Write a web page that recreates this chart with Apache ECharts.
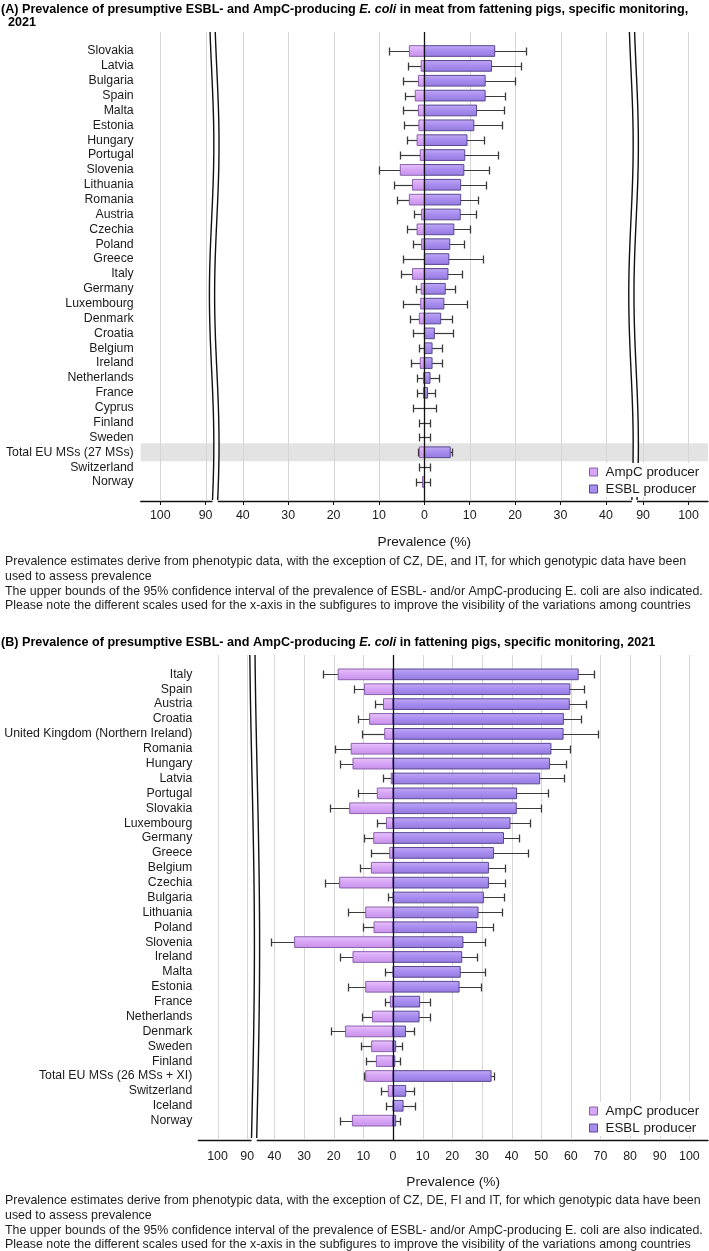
<!DOCTYPE html>
<html><head><meta charset="utf-8">
<script src="https://cdn.jsdelivr.net/npm/echarts@6/dist/echarts.min.js"></script>
<style>html,body{margin:0;padding:0;background:#fff}#c{width:709px;height:1251px}</style>
</head><body><div id="c"></div><script>
// ---------------- DATA: panel (A) meat from fattening pigs ----------------
const A_categories = ['Slovakia','Latvia','Bulgaria','Spain','Malta','Estonia','Hungary','Portugal','Slovenia','Lithuania','Romania','Austria','Czechia','Poland','Greece','Italy','Germany','Luxembourg','Denmark','Croatia','Belgium','Ireland','Netherlands','France','Cyprus','Finland','Sweden','Total EU MSs (27 MSs)','Switzerland','Norway'];
const A_ampc      = [3.3,0.7,1.3,2.0,1.3,1.2,1.6,0.9,5.3,2.6,3.3,0.6,1.6,0.6,0,2.6,0.7,0.8,1.1,0,0,0.9,0.2,0.2,0,0,0,1.1,0,0.4];
const A_ampcUpper = [7.7,3.7,4.8,4.3,4.8,4.5,3.9,5.4,10.0,6.7,6.1,2.3,3.9,2.4,4.8,5.2,1.8,4.6,3.1,2.6,1.2,2.9,1.7,1.7,2.6,1.2,1.2,1.5,1.2,1.8];
const A_esbl      = [15.5,14.8,13.4,13.4,11.5,10.9,9.4,8.9,8.7,8.0,8.0,7.9,6.5,5.6,5.4,5.2,4.6,4.3,3.6,2.2,1.7,1.7,1.25,0.7,0,0,0,5.7,0,0];
const A_esblUpper = [22.3,21.4,19.9,17.8,17.6,17.0,13.2,16.2,14.3,13.6,11.8,11.4,10.0,8.7,13.0,8.3,6.8,9.5,6.2,6.3,3.9,3.9,3.2,2.3,2.6,1.2,1.2,6.2,1.2,1.2];
const A_ticks     = [-100,-90,-40,-30,-20,-10,0,10,20,30,40,90,100];
const A_highlight = ['Total EU MSs (27 MSs)'];

// ---------------- DATA: panel (B) fattening pigs ----------------
const B_categories = ['Italy','Spain','Austria','Croatia','United Kingdom (Northern Ireland)','Romania','Hungary','Latvia','Portugal','Slovakia','Luxembourg','Germany','Greece','Belgium','Czechia','Bulgaria','Lithuania','Poland','Slovenia','Ireland','Malta','Estonia','France','Netherlands','Denmark','Sweden','Finland','Total EU MSs (26 MSs + XI)','Switzerland','Iceland','Norway'];
const B_ampc      = [18.5,9.6,3.2,7.9,2.8,14.1,13.5,0.6,5.3,14.6,2.2,6.5,1.1,7.3,18.0,0,9.2,6.4,33.2,13.5,0,9.2,0.9,6.9,16.0,7.2,5.6,9.2,1.6,0,13.7];
const B_ampcUpper = [23.6,13.0,6.0,11.9,10.3,19.5,17.8,3.5,11.9,21.4,5.5,9.7,7.3,11.0,22.8,1.8,15.1,10.0,41.2,18.0,2.8,15.1,2.8,10.5,20.8,10.8,9.0,9.7,4.0,2.4,17.9];
const B_esbl      = [62.5,59.7,59.5,57.5,57.4,53.3,52.8,49.5,41.7,41.6,39.5,37.3,33.9,32.2,32.2,30.5,28.7,28.2,23.6,23.2,22.7,22.3,9.0,8.8,4.2,0.9,0.6,33.1,4.3,3.4,0.9];
const B_esblUpper = [67.9,64.3,65.1,63.5,69.3,59.6,58.5,57.6,52.2,49.9,46.3,42.4,45.7,37.7,37.7,37.5,36.8,33.6,31.0,28.2,30.9,29.6,12.4,12.4,7.2,2.9,2.2,34.2,7.1,7.4,2.4];
const B_ticks     = [-100,-90,-40,-30,-20,-10,0,10,20,30,40,50,60,70,80,90,100];

const SERIES_NAMES = ['AmpC producer','ESBL producer'];

// ---------------- TEXTS ----------------
const TITLE_A1 = '(A) Prevalence of presumptive ESBL- and AmpC-producing {i|E. coli} in meat from fattening pigs, specific monitoring,';
const TITLE_A2 = '2021';
const TITLE_B  = '(B) Prevalence of presumptive ESBL- and AmpC-producing {i|E. coli} in fattening pigs, specific monitoring, 2021';
const NOTES_A = ['Prevalence estimates derive from phenotypic data, with the exception of CZ, DE, and IT, for which genotypic data have been','used to assess prevalence','The upper bounds of the 95% confidence interval of the prevalence of ESBL- and/or AmpC-producing E. coli are also indicated.','Please note the different scales used for the x-axis in the subfigures to improve the visibility of the variations among countries'];
const NOTES_B = ['Prevalence estimates derive from phenotypic data, with the exception of CZ, DE, FI and IT, for which genotypic data have been','used to assess prevalence','The upper bounds of the 95% confidence interval of the prevalence of ESBL- and/or AmpC-producing E. coli are also indicated.','Please note the different scales used for the x-axis in the subfigures to improve the visibility of the variations among countries'];
const AXIS_NAME = 'Prevalence (%)';

// ---------------- STYLE / LAYOUT ----------------
const FONT = "'Liberation Sans', Arial, Helvetica, sans-serif";
const TXT = '#1a1a1a';
const G = echarts.graphic;
const AMPC_FILL = () => new G.LinearGradient(0,0,0,1,[{offset:0,color:'#e8c6fb'},{offset:0.45,color:'#d8a6f6'},{offset:1,color:'#c791ea'}]);
const ESBL_FILL = () => new G.LinearGradient(0,0,0,1,[{offset:0,color:'#bfaaf6'},{offset:0.45,color:'#a98ef0'},{offset:1,color:'#937adf'}]);
const AMPC_STROKE = '#8a60ad', ESBL_STROKE = '#5a4890';
const WHISKER = '#3a3a3a';
const GRIDLINE = '#d6d6d6';

const PANELS = [
  { cats:A_categories, ampc:A_ampc, ampcU:A_ampcUpper, esbl:A_esbl, esblU:A_esblUpper, ticks:A_ticks, highlight:A_highlight,
    grid:{left:140.7, right:1, top:32, bottom:750}, xMin:-62.5, xMax:62.5, yPad:0.78,
    shiftL:41.8, shiftR:41.8, limit:45, breaks:[-46.3, 46.1],
    wave:{amp:2.2, period:0.64, peak:0.24}, showTicks:true, labelMargin:7, xLabelMargin:9, nameGap:34,
    legendTop:463 },
  { cats:B_categories, ampc:B_ampc, ampcU:B_ampcUpper, esbl:B_esbl, esblU:B_esblUpper, ticks:B_ticks, highlight:[],
    grid:{left:198.3, right:1, top:655, bottom:111}, xMin:-65.7, xMax:106.3, yPad:0.8,
    shiftL:40.8, shiftR:0, limit:45, breaks:[-46.7],
    wave:{amp:2.4, period:1.4, peak:0.6}, showTicks:false, labelMargin:6, xLabelMargin:10.5, nameGap:35,
    legendTop:1102 }
];

const BAR_RATIO = 0.72;

function mapper(P){
  return v => v > P.limit ? v - P.shiftR : (v < -P.limit ? v + P.shiftL : v);
}

const option = { animation:false, backgroundColor:'#fff', grid:[], xAxis:[], yAxis:[], series:[], legend:[], title:[] };

PANELS.forEach((P, k) => {
  const toV = mapper(P);
  const n = P.cats.length;
  const yMin = -0.5 - P.yPad, yMax = n - 0.5 + P.yPad;
  const tickV = P.ticks.map(toV);
  option.grid.push(Object.assign({containLabel:false}, P.grid));
  option.xAxis.push({
    gridIndex:k, type:'value', min:P.xMin, max:P.xMax, position:'bottom',
    name:AXIS_NAME, nameLocation:'middle', nameGap:P.nameGap,
    nameTextStyle:{fontFamily:FONT, fontSize:13.7, color:TXT},
    axisLine:{show:true, onZero:false, lineStyle:{color:'#111', width:1.3}},
    axisTick:{show:P.showTicks, customValues:tickV, length:4, lineStyle:{color:'#111', width:1}},
    axisLabel:{customValues:tickV, margin:P.xLabelMargin, fontFamily:FONT, fontSize:12.4, color:TXT,
      formatter: v => { const i = tickV.findIndex(t => Math.abs(t - v) < 1e-6); return i < 0 ? '' : String(Math.abs(P.ticks[i])); }},
    splitLine:{show:false}
  });
  option.yAxis.push({
    gridIndex:k, type:'value', inverse:true, min:yMin, max:yMax,
    axisLine:{show:false, onZero:false}, axisTick:{show:false}, splitLine:{show:false},
    axisLabel:{customValues:P.cats.map((_,i)=>i), margin:P.labelMargin, fontFamily:FONT, fontSize:12.3, color:TXT,
      formatter: v => P.cats[Math.round(v)] || ''}
  });

  const base = {xAxisIndex:k, yAxisIndex:k, type:'custom', silent:true, clip:false};

  // highlighted row band
  option.series.push(Object.assign({}, base, {
    name:'band'+k, z:1,
    data: P.highlight.map(c => [0, P.cats.indexOf(c)]),
    renderItem:(params, api) => {
      const cs = params.coordSys;
      const r = api.value(1);
      const y0 = api.coord([0, r - 0.6])[1], y1 = api.coord([0, r + 0.6])[1];
      return {type:'rect', shape:{x:cs.x, y:y0, width:cs.width, height:y1 - y0}, style:{fill:'#e3e3e3'}};
    }
  }));
  // vertical gridlines at tick values (except 0)
  option.series.push(Object.assign({}, base, {
    name:'grid'+k, z:1,
    data: P.ticks.filter(t => t !== 0).map(t => [toV(t), 0]),
    renderItem:(params, api) => {
      const cs = params.coordSys;
      const x = Math.round(api.coord([api.value(0), 0])[0]) + 0.5;
      return {type:'line', shape:{x1:x, y1:cs.y, x2:x, y2:cs.y + cs.height}, style:{stroke:GRIDLINE, lineWidth:1}};
    }
  }));
  // whiskers (upper bounds of 95% CI)
  const whisk = (params, api) => {
    const row = api.value(1), v = api.value(0);
    const p0 = api.coord([0, row]), p1 = api.coord([v, row]);
    const y = Math.round(p0[1]) + 0.5, x = Math.round(p1[0]) + 0.5;
    return {type:'group', children:[
      {type:'line', shape:{x1:p0[0], y1:y, x2:x, y2:y}, style:{stroke:WHISKER, lineWidth:1.2}},
      {type:'line', shape:{x1:x, y1:y - 4, x2:x, y2:y + 4}, style:{stroke:WHISKER, lineWidth:1.3}}
    ]};
  };
  option.series.push(Object.assign({}, base, {name:'ampcCI'+k, z:2, data:P.ampcU.map((v,i)=>[toV(-v), i]), renderItem:whisk}));
  option.series.push(Object.assign({}, base, {name:'esblCI'+k, z:2, data:P.esblU.map((v,i)=>[toV(v), i]), renderItem:whisk}));
  // bars
  const bar = (fill, stroke) => (params, api) => {
    const row = api.value(1), v = api.value(0);
    if (!v) return;
    const p0 = api.coord([0, row]), p1 = api.coord([v, row]);
    const h = api.size([0, 1])[1] * BAR_RATIO;
    return {type:'rect', shape:{x:Math.min(p0[0], p1[0]), y:p0[1] - h/2, width:Math.abs(p1[0] - p0[0]), height:h},
      style:{fill:fill(), stroke:stroke, lineWidth:1}};
  };
  option.series.push(Object.assign({}, base, {name:SERIES_NAMES[0], z:3, itemStyle:{color:'#d8a6f6'},
    data:P.ampc.map((v,i)=>[toV(-v), i]), renderItem:bar(AMPC_FILL, AMPC_STROKE)}));
  option.series.push(Object.assign({}, base, {name:SERIES_NAMES[1], z:3, itemStyle:{color:'#a98ef0'},
    data:P.esbl.map((v,i)=>[toV(v), i]), renderItem:bar(ESBL_FILL, ESBL_STROKE)}));
  // zero line
  option.series.push(Object.assign({}, base, {
    name:'zero'+k, z:4, data:[[0, 0]],
    renderItem:(params, api) => {
      const cs = params.coordSys;
      const x = Math.round(api.coord([0, 0])[0]) + 0.5;
      return {type:'line', shape:{x1:x, y1:cs.y, x2:x, y2:cs.y + cs.height}, style:{stroke:'#111', lineWidth:1.3}};
    }
  }));
  // axis breaks (double wavy lines)
  option.series.push(Object.assign({}, base, {
    name:'break'+k, z:5, data:P.breaks.map(b => [b, 0]),
    renderItem:(params, api) => {
      const cs = params.coordSys;
      const cx = api.coord([api.value(0), 0])[0];
      const W = P.wave, left = [], right = [];
      for (let y = cs.y; y <= cs.y + cs.height + 0.01; y += 3) {
        const f = (y - cs.y) / cs.height;
        const off = W.amp * Math.cos(2 * Math.PI * (f - W.peak) / W.period);
        left.push([cx + off - 2.6, y]); right.push([cx + off + 2.6, y]);
      }
      const yb = cs.y + cs.height;
      const poly = left.concat([[left[left.length-1][0], yb + 2], [right[right.length-1][0], yb + 2]], right.slice().reverse());
      return {type:'group', children:[
        {type:'polygon', shape:{points:poly}, style:{fill:'#fff', stroke:null}},
        {type:'polyline', shape:{points:left, smooth:0.3}, style:{stroke:'#111', lineWidth:1.4, fill:null}},
        {type:'polyline', shape:{points:right, smooth:0.3}, style:{stroke:'#111', lineWidth:1.4, fill:null}}
      ]};
    }
  }));

  option.legend.push({
    left:586, top:P.legendTop, orient:'vertical', itemWidth:8, itemHeight:8, itemGap:1,
    padding:[1,12,0,3], backgroundColor:'#fff', z:20,
    selectedMode:false,
    textStyle:{fontFamily:FONT, fontSize:13.4, color:TXT, lineHeight:16, padding:[0,0,0,3]},
    data:[
      {name:SERIES_NAMES[0], icon:'rect', itemStyle:{color:'#d8a6f6', borderColor:AMPC_STROKE, borderWidth:1}},
      {name:SERIES_NAMES[1], icon:'rect', itemStyle:{color:'#a98ef0', borderColor:ESBL_STROKE, borderWidth:1}}
    ]
  });
});

const titleStyle = {fontFamily:FONT, fontSize:12.6, fontWeight:'bold', color:'#000',
  rich:{i:{fontFamily:FONT, fontSize:12.6, fontWeight:'bold', fontStyle:'italic', color:'#000'}}};
const noteStyle = {fontFamily:FONT, fontSize:12.4, fontWeight:'normal', color:'#1f1f1f', lineHeight:14.7};
option.title = [
  {text:TITLE_A1, left:1, top:3, padding:0, textStyle:titleStyle},
  {text:TITLE_A2, left:8, top:16.5, padding:0, textStyle:titleStyle},
  {text:NOTES_A.join('\n'), left:5, top:554.6, padding:0, textStyle:noteStyle},
  {text:TITLE_B, left:1, top:636, padding:0, textStyle:titleStyle},
  {text:NOTES_B.join('\n'), left:5, top:1193.6, padding:0, textStyle:noteStyle}
];

const chart = echarts.init(document.getElementById('c'), null, {renderer:'canvas'});
chart.setOption(option);
</script></body></html>
